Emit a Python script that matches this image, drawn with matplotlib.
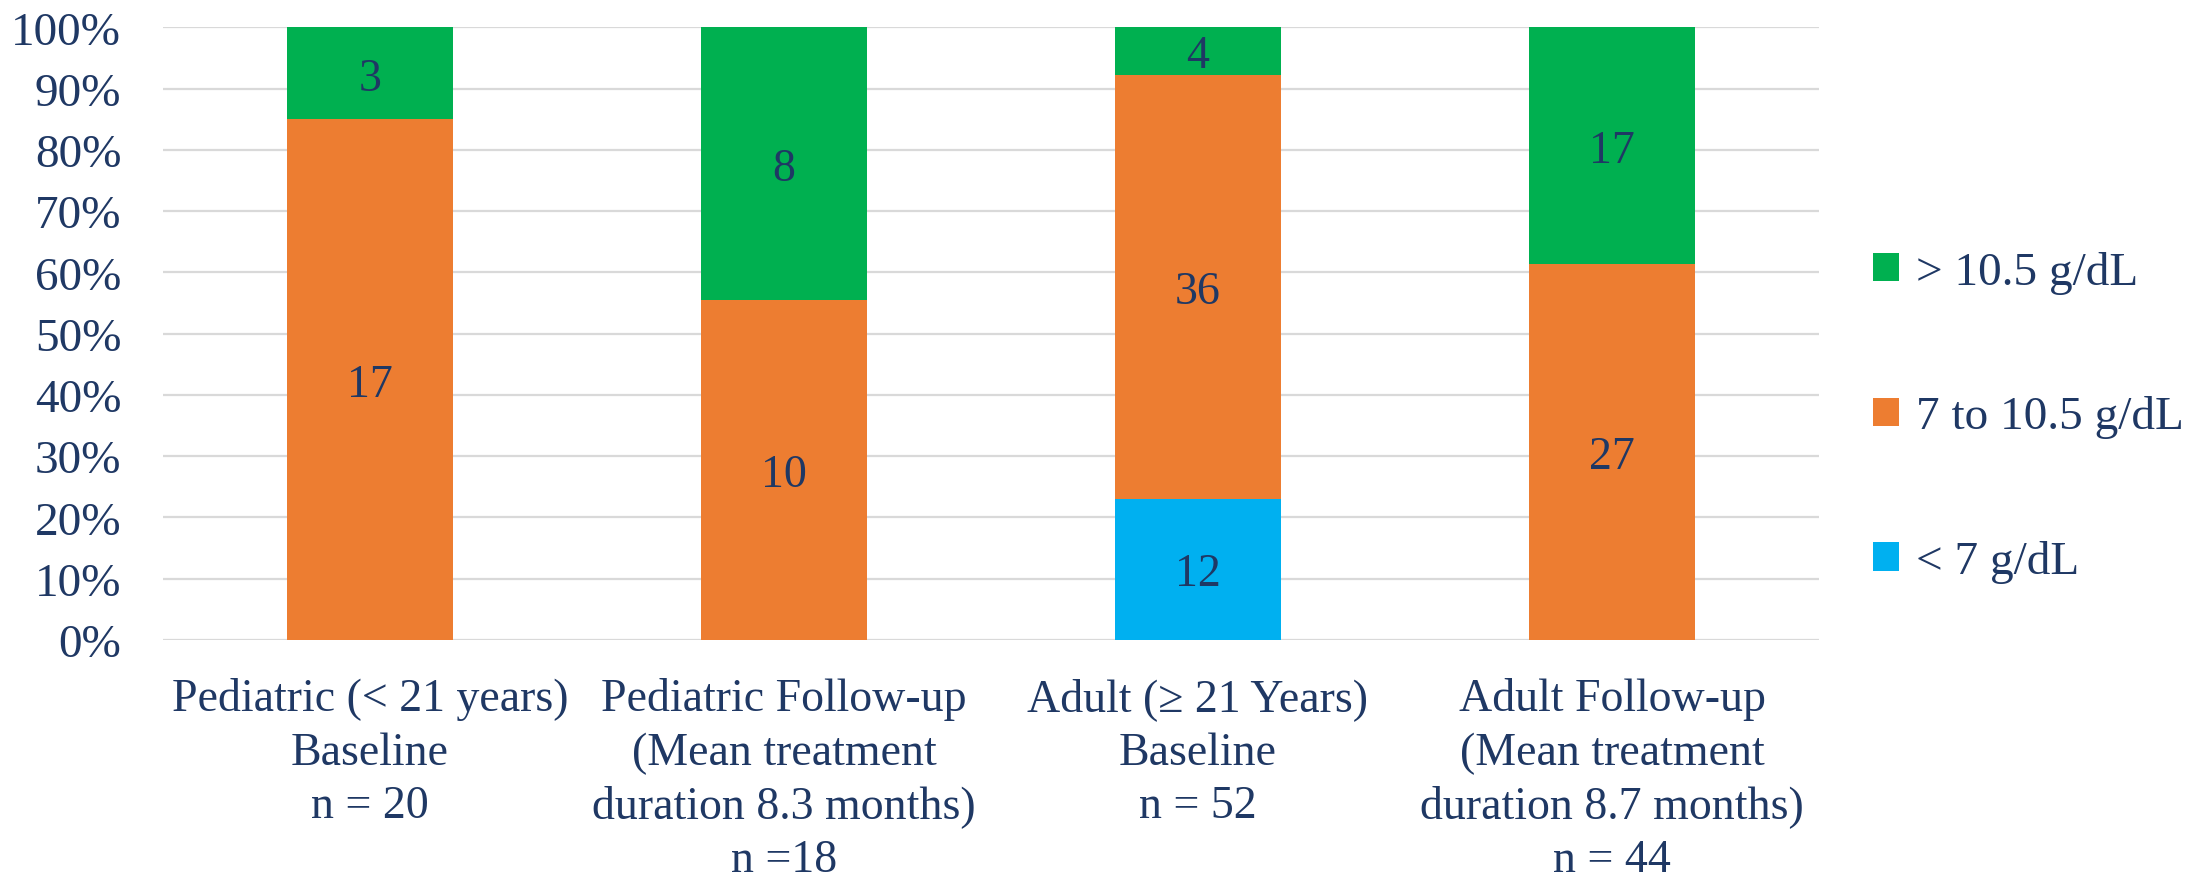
import matplotlib
matplotlib.use("Agg")
import matplotlib.pyplot as plt
from matplotlib.patches import Patch
import numpy as np

categories = [
    "Pediatric (< 21 years)\nBaseline\nn = 20",
    "Pediatric Follow-up\n(Mean treatment\nduration 8.3 months)\nn =18",
    "Adult (\u2265 21 Years)\nBaseline\nn = 52",
    "Adult Follow-up\n(Mean treatment\nduration 8.7 months)\nn = 44",
]
below_7 = [0, 0, 12, 0]
mid_7_10 = [17, 10, 36, 27]
above_10 = [3, 8, 4, 17]
series_labels = ["< 7 g/dL", "7 to 10.5 g/dL", "> 10.5 g/dL"]
series_colors = ["#00B0F0", "#ED7D31", "#00B050"]
yticks = [0, 10, 20, 30, 40, 50, 60, 70, 80, 90, 100]

text_color = "#1F3864"
plt.rcParams["font.family"] = ["Liberation Serif", "DejaVu Serif"]

counts = np.array([below_7, mid_7_10, above_10], dtype=float)
totals = counts.sum(axis=0)
shares = counts / totals * 100

fig = plt.figure(figsize=(21.9, 8.78), dpi=100)
ax = fig.add_axes([0.0744, 0.270, 0.7562, 0.6976])

x = np.arange(len(categories))
bottom = np.zeros(len(categories))
for i in range(3):
    ax.bar(x, shares[i], bottom=bottom, width=0.4, color=series_colors[i], zorder=3)
    for j in range(len(categories)):
        if counts[i, j] > 0:
            ax.text(x[j], bottom[j] + shares[i, j] / 2 - 0.8, f"{int(counts[i, j])}",
                    ha="center", va="center", fontsize=33, color=text_color, zorder=4)
    bottom += shares[i]

ax.set_xlim(-0.5, 3.5)
ax.set_ylim(0, 100)
ax.set_yticks(yticks)
ax.set_yticklabels([f"{v}%" for v in yticks])
ax.set_xticks(x)
ax.set_xticklabels(categories, linespacing=1.33)
ax.tick_params(axis="y", length=0, pad=30, labelsize=34, labelcolor=text_color)
ax.tick_params(axis="x", length=0, pad=27, labelsize=33, labelcolor=text_color)
ax.yaxis.grid(True, color="#D9D9D9", linewidth=1.6, zorder=0)
ax.set_axisbelow(True)
for s in ax.spines.values():
    s.set_visible(False)

handles = [Patch(facecolor=series_colors[i], label=series_labels[i]) for i in (2, 1, 0)]
leg = ax.legend(handles=handles, loc="center left", bbox_to_anchor=(1.007, 0.364),
                frameon=False, fontsize=34, labelcolor=text_color,
                handlelength=0.55, handleheight=0.55, handletextpad=0.35,
                labelspacing=2.15)

fig.savefig("out.png", dpi=100)
